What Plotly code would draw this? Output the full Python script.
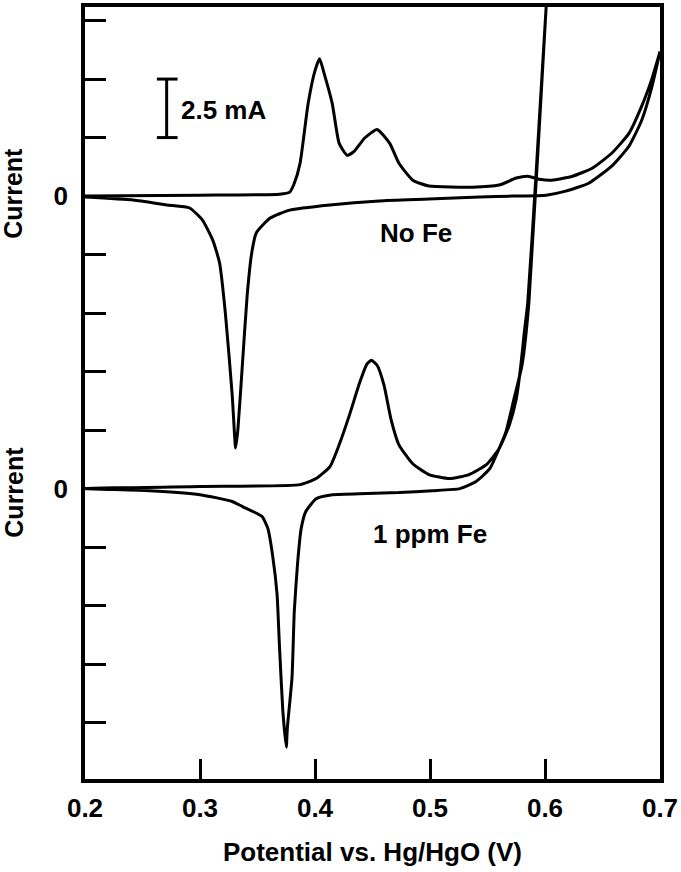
import plotly.graph_objects as go

# Potential (V) and current (mA)
# "No Fe" - anodic (forward) sweep 0.2 -> 0.7 V
nofe_fwd_v = [0.200, 0.300, 0.369, 0.378, 0.382, 0.387, 0.394, 0.400, 0.404, 0.408, 0.415, 0.421,
              0.428, 0.434, 0.443, 0.454, 0.465, 0.473, 0.485, 0.499, 0.537, 0.560, 0.575, 0.585,
              0.595, 0.606, 0.624, 0.641, 0.658, 0.673, 0.684, 0.693, 0.700]
nofe_fwd_i = [0.00, 0.04, 0.08, 0.17, 0.55, 1.40, 3.95, 5.36, 5.87, 5.23, 3.95, 2.25,
              1.74, 1.91, 2.47, 2.85, 2.25, 1.40, 0.68, 0.43, 0.38, 0.47, 0.77, 0.85,
              0.72, 0.68, 0.85, 1.19, 1.83, 2.68, 3.83, 5.02, 6.17]
# "No Fe" - cathodic (reverse) sweep 0.7 -> 0.2 V
nofe_rev_v = [0.700, 0.693, 0.684, 0.673, 0.658, 0.638, 0.618, 0.601, 0.572, 0.543, 0.499, 0.456,
              0.413, 0.378, 0.361, 0.349, 0.345, 0.341, 0.337, 0.333, 0.331, 0.328, 0.322, 0.317,
              0.311, 0.302, 0.291, 0.271, 0.242, 0.200]
nofe_rev_i = [6.17, 4.68, 3.23, 2.13, 1.28, 0.55, 0.21, 0.04, 0.00, -0.04, -0.13, -0.21,
              -0.38, -0.60, -0.94, -1.57, -2.42, -4.25, -7.10, -9.95, -10.76, -8.50, -4.97, -2.85,
              -1.87, -1.02, -0.51, -0.38, -0.17, -0.04]

# "1 ppm Fe" - anodic (forward) sweep
fe_fwd_v = [0.200, 0.300, 0.387, 0.401, 0.413, 0.421, 0.430, 0.439, 0.445, 0.449, 0.454, 0.460,
            0.466, 0.473, 0.485, 0.499, 0.517, 0.534, 0.549, 0.560, 0.569, 0.575, 0.579, 0.582,
            0.585, 0.592, 0.601, 0.605]
fe_fwd_i = [0.00, 0.09, 0.17, 0.43, 0.94, 1.87, 3.15, 4.55, 5.31, 5.48, 5.27, 4.42,
            2.98, 1.87, 1.06, 0.60, 0.43, 0.60, 1.02, 1.70, 2.72, 3.83, 5.27, 6.68,
            7.95, 13.27, 20.58, 23.26]
# "1 ppm Fe" - cathodic (reverse) sweep
fe_rev_v = [0.605, 0.601, 0.586, 0.580, 0.573, 0.566, 0.560, 0.552, 0.540, 0.526, 0.502, 0.473,
            0.445, 0.415, 0.401, 0.392, 0.388, 0.385, 0.382, 0.380, 0.376, 0.375, 0.372, 0.369,
            0.367, 0.363, 0.359, 0.354, 0.346, 0.337, 0.328, 0.300, 0.256, 0.200]
fe_rev_i = [23.26, 20.58, 7.95, 5.27, 3.83, 2.42, 1.70, 0.85, 0.30, 0.00, -0.09, -0.17,
            -0.21, -0.26, -0.43, -0.98, -1.70, -3.10, -5.23, -8.08, -10.20, -11.05, -9.48, -6.63,
            -4.51, -2.81, -1.70, -1.19, -0.98, -0.77, -0.55, -0.26, -0.09, 0.00]

NOFE_OFFSET = 12.5  # vertical offset of the "No Fe" trace (mA)
x_ticks = [0.2, 0.3, 0.4, 0.5, 0.6, 0.7]
x_ticktext = ["0.2", "0.3", "0.4", "0.5", "0.6", "0.7"]
y_ticks = [-10 + 2.5 * k for k in range(13)]
y_ticktext = ["0" if abs(v) < 1e-9 or abs(v - NOFE_OFFSET) < 1e-9 else "" for v in y_ticks]

FONT = "Liberation Sans, Arial, Helvetica, sans-serif"
line_style = dict(color="black", width=3, shape="spline", smoothing=0.5)

fig = go.Figure()
fig.add_trace(go.Scatter(
    x=nofe_fwd_v + nofe_rev_v,
    y=[i + NOFE_OFFSET for i in nofe_fwd_i + nofe_rev_i],
    mode="lines", line=line_style, name="No Fe"))
fig.add_trace(go.Scatter(
    x=fe_fwd_v + fe_rev_v, y=fe_fwd_i + fe_rev_i,
    mode="lines", line=line_style, name="1 ppm Fe"))

# scale bar 2.5 mA
sb_x, sb_y0, sb_y1 = 0.271, 15.0, 17.5
fig.add_shape(type="line", x0=sb_x, x1=sb_x, y0=sb_y0, y1=sb_y1, line=dict(color="black", width=3))
for yy in (sb_y0, sb_y1):
    fig.add_shape(type="line", x0=0.2625, x1=0.2805, y0=yy, y1=yy, line=dict(color="black", width=3))

tfont = dict(family=FONT, size=26, color="black", weight="bold")
fig.add_annotation(x=0.2815, y=16.2, text="2.5 mA", showarrow=False, xanchor="left", yanchor="middle", font=tfont)
fig.add_annotation(x=0.488, y=10.93, text="No Fe", showarrow=False, xanchor="center", yanchor="middle", font=tfont)
fig.add_annotation(x=0.500, y=-1.96, text="1 ppm Fe", showarrow=False, xanchor="center", yanchor="middle", font=tfont)
for yc in (12.6, -0.17):
    fig.add_annotation(xref="paper", x=-0.125, y=yc, text="Current", textangle=-90, showarrow=False,
                       xanchor="center", yanchor="middle", font=dict(family=FONT, size=25, color="black", weight="bold"))

fig.update_xaxes(range=[0.2, 0.7], tickvals=x_ticks, ticktext=x_ticktext,
                 ticks="inside", ticklen=20, tickwidth=3, tickcolor="black",
                 showline=True, linewidth=3.5, linecolor="black", mirror=True,
                 showgrid=False, zeroline=False, ticklabelstandoff=3,
                 tickfont=dict(family=FONT, size=26, color="black", weight="bold"),
                 title=dict(text="Potential vs. Hg/HgO (V)", standoff=22,
                            font=dict(family=FONT, size=26, color="black", weight="bold")))
fig.update_yaxes(range=[-12.41, 20.58], tickvals=y_ticks, ticktext=y_ticktext,
                 ticks="inside", ticklen=21, tickwidth=3, tickcolor="black",
                 showline=True, linewidth=3.5, linecolor="black", mirror=True,
                 showgrid=False, zeroline=False, ticklabelstandoff=8,
                 tickfont=dict(family=FONT, size=26, color="black", weight="bold"))
fig.update_layout(width=681, height=872, margin=dict(l=85, r=20, t=3, b=93),
                  plot_bgcolor="white", paper_bgcolor="white", showlegend=False)

fig.write_html("out.html", config={"displayModeBar": False},
               post_script="document.body.style.margin='0';document.body.style.overflow='hidden';")
